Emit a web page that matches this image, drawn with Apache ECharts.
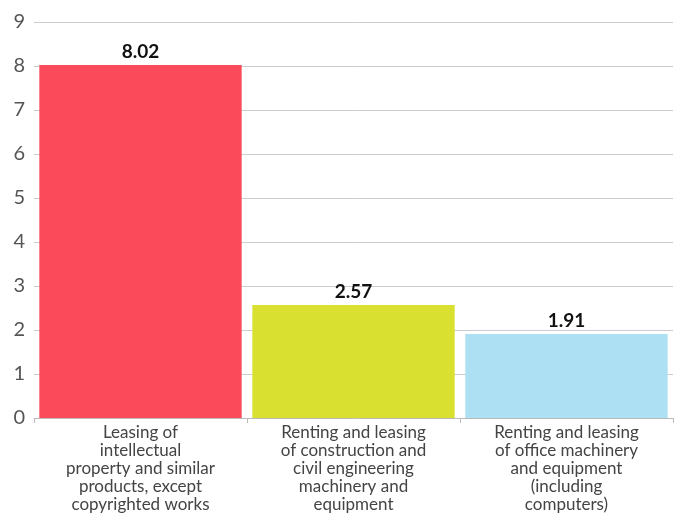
<!DOCTYPE html>
<html><head><meta charset="utf-8">
<script src="https://cdn.jsdelivr.net/npm/echarts@6/dist/echarts.min.js"></script>
<style>html,body{margin:0;padding:0;background:#fff}#c{width:679px;height:514px}</style>
</head><body><div id="c"></div>
<script>
const categories = [
  "Leasing of\nintellectual\nproperty and similar\nproducts, except\ncopyrighted works",
  "Renting and leasing\nof construction and\ncivil engineering\nmachinery and\nequipment",
  "Renting and leasing\nof office machinery\nand equipment\n(including\ncomputers)"
];
const values = [8.02, 2.57, 1.91];
const barColors = ["#FB4A5A", "#D9E030", "#ADE0F2"];
const yTicks = { min: 0, max: 9, interval: 1 };

const chart = echarts.init(document.getElementById('c'), null, {renderer: 'canvas'});
chart.setOption({
  animation: false,
  textStyle: { fontFamily: 'Lato' },
  grid: { left: 34, right: 6, top: 22, bottom: 94, containLabel: false },
  xAxis: {
    type: 'category',
    data: categories,
    axisLine: { lineStyle: { color: '#bbbbbb', width: 1 } },
    axisTick: { show: true, length: 5, lineStyle: { color: '#bbbbbb' } },
    axisLabel: { color: '#444', fontSize: 17, lineHeight: 18, margin: 6, interval: 0, fontFamily: 'Lato' }
  },
  yAxis: {
    type: 'value',
    min: yTicks.min, max: yTicks.max, interval: yTicks.interval,
    axisLine: { show: false },
    axisTick: { show: false },
    splitLine: { lineStyle: { color: '#cccccc', width: 1 } },
    axisLabel: { color: '#555', fontSize: 20, margin: 9, fontFamily: 'Lato' }
  },
  series: [{
    type: 'bar',
    data: values.map((v, i) => ({ value: v, itemStyle: { color: barColors[i] } })),
    barCategoryGap: '5%',
    label: {
      show: true, position: 'top', distance: 4,
      color: '#111', fontSize: 19, fontWeight: 'bold', fontFamily: 'Lato',
      formatter: p => p.value.toFixed(2)
    }
  }]
});
</script></body></html>
